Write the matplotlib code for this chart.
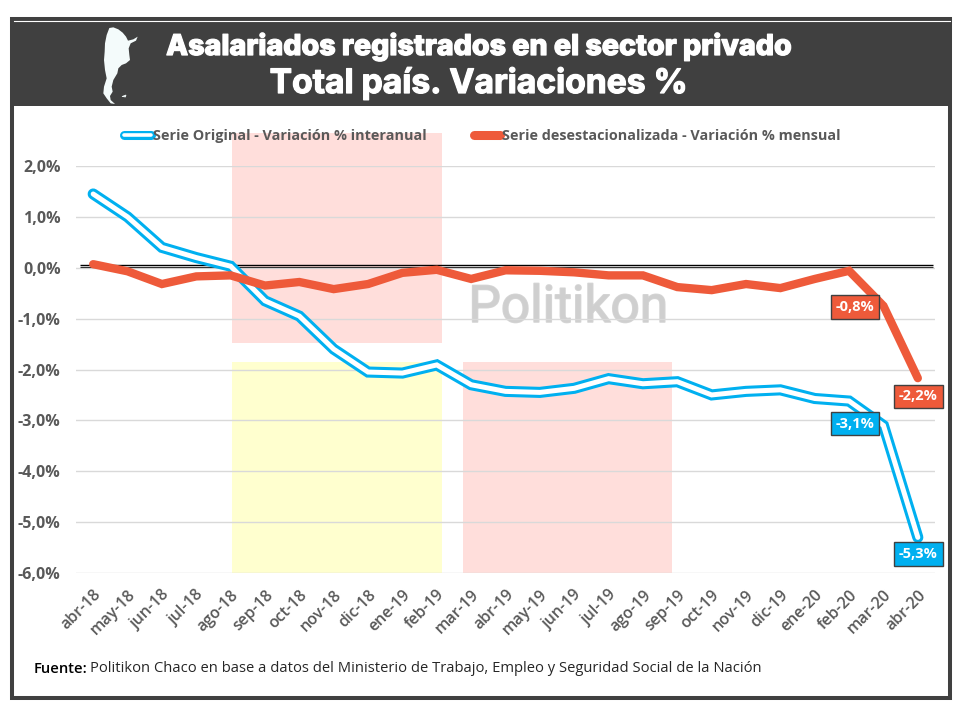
import matplotlib
matplotlib.use('Agg')
import numpy as np
import matplotlib.pyplot as plt
import matplotlib.patheffects as pe
from matplotlib.patches import Rectangle, Polygon
from matplotlib.ticker import FuncFormatter

meses = ['abr-18', 'may-18', 'jun-18', 'jul-18', 'ago-18', 'sep-18', 'oct-18', 'nov-18', 'dic-18',
         'ene-19', 'feb-19', 'mar-19', 'abr-19', 'may-19', 'jun-19', 'jul-19', 'ago-19', 'sep-19',
         'oct-19', 'nov-19', 'dic-19', 'ene-20', 'feb-20', 'mar-20', 'abr-20']
interanual = [1.45, 1.0, 0.4, 0.2, 0.03, -0.65, -0.95, -1.6, -2.05, -2.07, -1.91, -2.3, -2.43,
              -2.45, -2.37, -2.18, -2.28, -2.24, -2.5, -2.43, -2.4, -2.57, -2.62, -3.1, -5.3]
mensual = [0.07, -0.07, -0.32, -0.17, -0.15, -0.35, -0.28, -0.42, -0.32, -0.1, -0.04, -0.22, -0.05,
           -0.06, -0.09, -0.15, -0.15, -0.38, -0.44, -0.32, -0.4, -0.22, -0.06, -0.75, -2.17]

AZUL = '#00b0f0'
ROJO = '#ee5a3a'
GRIS = '#404040'
W, H = 960, 720

plt.rcParams['font.family'] = ['Open Sans', 'DejaVu Sans']

fig = plt.figure(figsize=(W / 100, H / 100), dpi=100, facecolor='white')

# capa de fondo en pixeles
bg = fig.add_axes([0, 0, 1, 1], zorder=0)
bg.set_xlim(0, W)
bg.set_ylim(H, 0)
bg.axis('off')
bg.add_patch(Rectangle((12, 19), 938, 679, fc='white', ec=GRIS, lw=2.9))
bg.add_patch(Rectangle((12, 19), 938, 87, fc=GRIS, ec='none'))
bg.plot([14, 950], [21, 21], color='white', lw=0.8)
bg.add_patch(Rectangle((232, 133), 210, 210, fc='#ffdedb', ec='none'))
bg.add_patch(Rectangle((232, 362), 210, 211, fc='#ffffcf', ec='none'))
bg.add_patch(Rectangle((463, 362), 209, 211, fc='#ffdedb', ec='none'))

# silueta del pais
silueta = [(58, 24), (70, 22), (85, 28), (98, 38), (108, 50), (114, 62), (130, 58), (143, 50),
           (138, 62), (122, 70), (116, 85), (118, 105), (120, 120), (108, 130), (95, 135), (85, 145),
           (82, 160), (70, 180), (65, 200), (68, 215), (60, 228), (62, 240), (75, 252), (62, 250),
           (50, 235), (40, 220), (42, 200), (50, 175), (45, 150), (42, 120), (44, 95), (45, 70),
           (50, 45)]
bg.add_patch(Polygon([(90 + a / 3, 20 + b / 3) for a, b in silueta], closed=True, fc='#f4fbfb', ec='none'))
bg.add_patch(Polygon([(122, 96.5), (126, 95), (125.5, 97)], closed=True, fc='#f4fbfb', ec='#f4fbfb', lw=0.5))

bg.text(479, 55, 'Asalariados registrados en el sector privado', color='white', fontsize=20.6,
        fontweight='heavy', ha='center', va='baseline', family=['Inter', 'DejaVu Sans'],
        path_effects=[pe.withStroke(linewidth=0.9, foreground='white')])
bg.text(479, 93, 'Total país. Variaciones %', color='white', fontsize=24.2,
        fontweight='bold', ha='center', va='baseline', family=['Inter', 'DejaVu Sans'],
        path_effects=[pe.withStroke(linewidth=0.9, foreground='white')])

# grafico
ax = fig.add_axes([76 / W, 1 - 573 / H, (935 - 76) / W, (573 - 166) / H], zorder=1)
ax.patch.set_alpha(0)
x = np.arange(len(meses))
ax.set_xlim(-0.5, len(meses) - 0.5)
ax.set_ylim(-6, 2)
ax.set_yticks(np.arange(-6, 3))
ax.yaxis.set_major_formatter(FuncFormatter(lambda v, p: f'{v:.1f}%'.replace('.', ',')))
ax.set_xticks(x)
ax.set_xticklabels(meses, rotation=45, ha='right', rotation_mode='anchor')
ax.tick_params(axis='both', length=0, labelcolor='#595959')
ax.tick_params(axis='y', labelsize=11.5, pad=11)
ax.tick_params(axis='x', labelsize=11.5, pad=10)
for lab in ax.get_yticklabels():
    lab.set_fontweight('bold')
for lab in ax.get_xticklabels():
    lab.set_fontweight('semibold')
ax.grid(axis='y', color='#d9d9d9', lw=1)
ax.set_axisbelow(True)
for s in ax.spines.values():
    s.set_visible(False)

ax.hlines(0.06, -0.38, 24.45, color='black', lw=1, zorder=2)
ax.hlines(0.015, -0.38, 24.45, color='#333333', lw=0.8, zorder=2)

bg.text(568, 322, 'Politikon', color='#cfcfcf', fontsize=37, ha='center', va='baseline',
        family=['Roboto', 'DejaVu Sans'], zorder=5,
        path_effects=[pe.withStroke(linewidth=1.2, foreground='#d6d6d6')])

ax.plot(x, interanual, color=AZUL, lw=8, solid_capstyle='round', solid_joinstyle='miter', zorder=3)
ax.plot(x, interanual, color='white', lw=3.6, solid_capstyle='round', solid_joinstyle='miter', zorder=3.1)
ax.plot(x, mensual, color=ROJO, lw=6, solid_capstyle='round', solid_joinstyle='miter', zorder=4)


def etiqueta(i, v, dx, dy, color):
    ax.annotate(f'{v:.1f}%'.replace('.', ','), (i, v), xytext=(dx, dy), textcoords='offset points',
                ha='center', va='center', color='white', fontsize=10.5, fontweight='bold', zorder=6,
                bbox=dict(boxstyle='square,pad=0.33', fc=color, ec=GRIS, lw=1))


etiqueta(22, -0.8, 4.3, 0.9, ROJO)
etiqueta(24, -2.2, 0.5, -12, ROJO)
etiqueta(22, -3.1, 4.3, 1.3, AZUL)
etiqueta(24, -5.3, 0.5, -12, AZUL)

# leyenda hecha a mano
bg.plot([124, 151], [134.5, 134.5], color=AZUL, lw=6.5, solid_capstyle='round', zorder=6)
bg.plot([124, 151], [134.5, 134.5], color='white', lw=2.6, solid_capstyle='round', zorder=6.1)
bg.text(153, 136, 'Serie Original - Variación % interanual', color='#595959', fontsize=10.4,
        fontweight='bold', ha='left', va='center', zorder=6)
bg.plot([474, 500], [134.5, 134.5], color=ROJO, lw=6.5, solid_capstyle='round', zorder=6)
bg.text(502, 136, 'Serie desestacionalizada - Variación % mensual', color='#595959', fontsize=10.4,
        fontweight='bold', ha='left', va='center', zorder=6)

# fuente
bg.text(34, 669, 'Fuente:', color='black', fontsize=10.6, fontweight='semibold', ha='left', va='center')
bg.text(90, 669, 'Politikon Chaco en base a datos del Ministerio de Trabajo, Empleo y Seguridad Social de la Nación',
        color='#262626', fontsize=10.65, ha='left', va='center')

fig.savefig('out.png', dpi=100)
